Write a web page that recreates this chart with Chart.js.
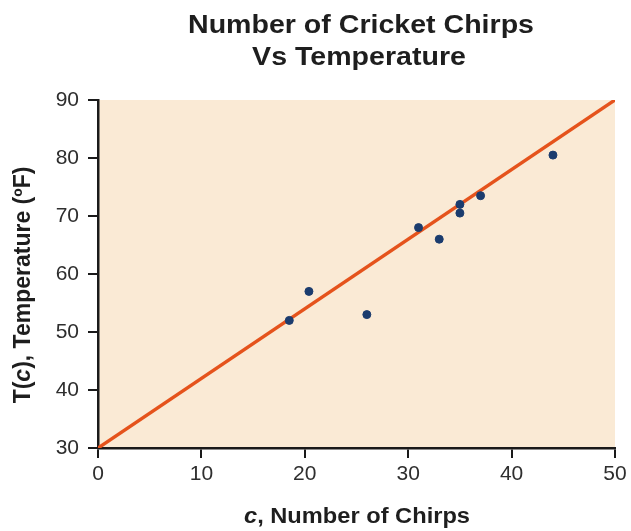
<!DOCTYPE html>
<html>
<head>
<meta charset="utf-8">
<script src="https://cdn.jsdelivr.net/npm/chart.js@4.4.1/dist/chart.umd.min.js"></script>
<style>
  html, body { margin: 0; padding: 0; background: #ffffff; }
  #wrap { width: 631px; height: 531px; }
</style>
</head>
<body>
<div id="wrap"><canvas id="c" width="631" height="531"></canvas></div>
<script>
// ---- data ----
const chirps = [44, 35, 20.4, 33, 31, 35, 18.5, 37, 26];
const temps  = [80.5, 70.5, 57, 66, 68, 72, 52, 73.5, 53];
const fitX = [0, 50];
const fitY = [30, 90];
const xTickValues = [0, 10, 20, 30, 40, 50];
const yTickValues = [30, 40, 50, 60, 70, 80, 90];
const titleLines = ['Number of Cricket Chirps', 'Vs Temperature'];
const xTitleParts = [['c', true], [', Number of Chirps', false]];
const yTitleParts = [['T(', false], ['c', true], ['), Temperature (ºF)', false]];

const FONT = '"Liberation Sans", Arial, Helvetica, sans-serif';

const pointsData = chirps.map((c, i) => ({ x: c, y: temps[i] }));
const lineData = fitX.map((c, i) => ({ x: c, y: fitY[i] }));

function drawParts(ctx, parts, size, cx, cy, sx) {
  let total = 0;
  const widths = parts.map(([t, it]) => {
    ctx.font = (it ? 'italic ' : '') + 'bold ' + size + 'px ' + FONT;
    const w = ctx.measureText(t).width;
    total += w;
    return w;
  });
  ctx.save();
  ctx.translate(cx, cy);
  ctx.scale(sx, 1);
  let x = -total / 2;
  ctx.textAlign = 'left';
  ctx.textBaseline = 'alphabetic';
  parts.forEach(([t, it], i) => {
    ctx.font = (it ? 'italic ' : '') + 'bold ' + size + 'px ' + FONT;
    ctx.fillText(t, x, 0);
    x += widths[i];
  });
  ctx.restore();
}

const decor = {
  id: 'decor',
  beforeDraw(chart) {
    const { ctx, chartArea: a } = chart;
    ctx.save();
    ctx.fillStyle = '#ffffff';
    ctx.fillRect(0, 0, chart.width, chart.height);
    ctx.fillStyle = '#faead5';
    ctx.fillRect(a.left, a.top, a.right - a.left, a.bottom - a.top);
    ctx.restore();
  },
  afterDraw(chart) {
    const { ctx } = chart;
    ctx.save();
    ctx.fillStyle = '#1e1e1e';
    // chart title
    drawParts(ctx, [[titleLines[0], false]], 25.5, 361, 33, 1.12);
    drawParts(ctx, [[titleLines[1], false]], 25.5, 359, 65, 1.12);
    // x axis title
    drawParts(ctx, xTitleParts, 21.5, 357, 523, 1.1);
    // y axis title (rotated)
    ctx.save();
    ctx.translate(30, 285);
    ctx.rotate(-Math.PI / 2);
    drawParts(ctx, yTitleParts, 23, 0, 0, 1.0);
    ctx.restore();
    ctx.restore();
  }
};

const axisGrid = {
  display: true,
  drawOnChartArea: false,
  drawTicks: true,
  tickLength: 10,
  color: '#1a1a1a',
  lineWidth: 2
};
const axisBorder = { display: true, color: '#1a1a1a', width: 2.5 };

new Chart(document.getElementById('c'), {
  type: 'scatter',
  data: {
    datasets: [
      {
        label: 'Data',
        data: pointsData,
        backgroundColor: '#1b3c6e',
        borderColor: '#1b3c6e',
        pointRadius: 4,
        pointHoverRadius: 4,
        showLine: false
      },
      {
        label: 'Fit',
        data: lineData,
        showLine: true,
        borderColor: '#e5531c',
        borderWidth: 3.5,
        pointRadius: 0,
        fill: false
      }
    ]
  },
  options: {
    responsive: false,
    animation: false,
    devicePixelRatio: 1,
    layout: { padding: { top: 100, right: 16, left: 0, bottom: 0 } },
    plugins: {
      legend: { display: false },
      title: { display: false },
      tooltip: { enabled: false }
    },
    scales: {
      x: {
        type: 'linear',
        min: 0, max: 50,
        afterBuildTicks(s) { s.ticks = xTickValues.map(v => ({ value: v })); },
        afterFit(s) { s.height = 83; },
        grid: axisGrid,
        border: axisBorder,
        ticks: {
          color: '#2e2e2e',
          font: { family: FONT, size: 21 },
          padding: 4,
          maxRotation: 0
        }
      },
      y: {
        type: 'linear',
        min: 30, max: 90,
        afterBuildTicks(s) { s.ticks = yTickValues.map(v => ({ value: v })); },
        afterFit(s) { s.width = 98; },
        grid: axisGrid,
        border: axisBorder,
        ticks: {
          color: '#2e2e2e',
          font: { family: FONT, size: 21 },
          padding: 9
        }
      }
    }
  },
  plugins: [decor]
});
</script>
</body>
</html>
